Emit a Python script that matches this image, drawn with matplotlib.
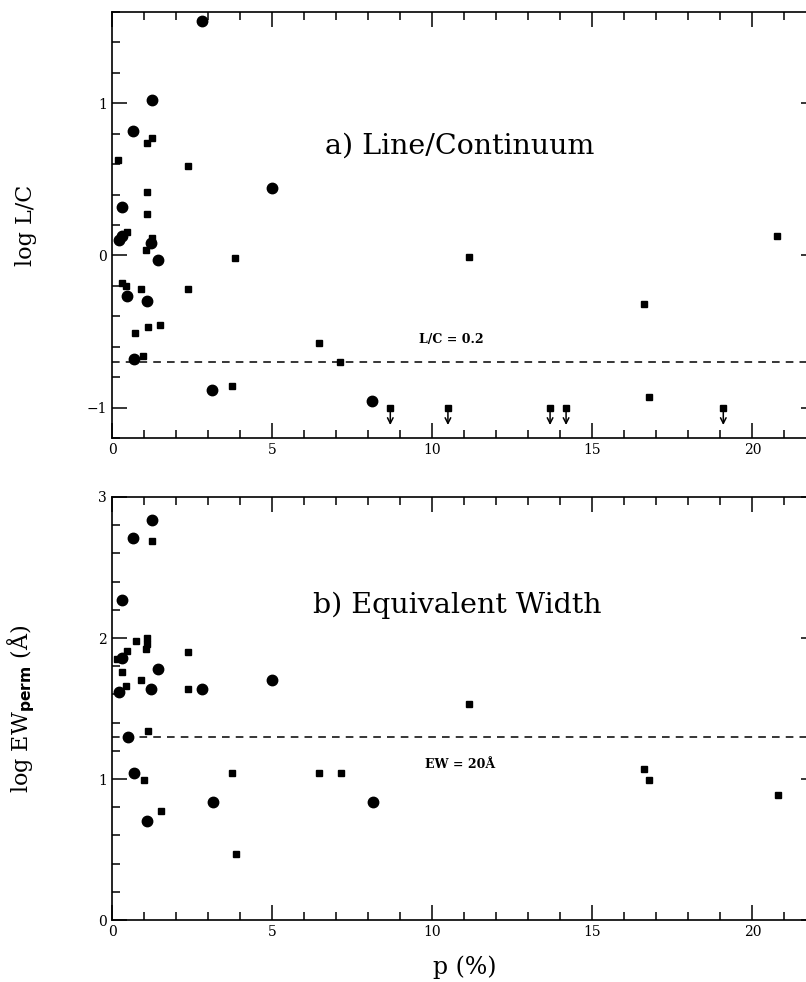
import matplotlib
matplotlib.use("Agg")
import matplotlib.pyplot as plt
from matplotlib.ticker import MultipleLocator

plt.rcParams['font.family'] = ['DejaVu Serif']

# panel a) log L/C versus p (%)
lc_circ_p = [2.82, 1.26, 0.65, 5.01, 0.32, 0.22, 0.32, 1.21, 1.43, 0.48, 1.09, 0.68, 3.13, 8.13]
lc_circ_v = [1.54, 1.02, 0.82, 0.44, 0.32, 0.098, 0.127, 0.083, -0.028, -0.27, -0.30, -0.68, -0.885, -0.96]
lc_sq_p = [1.10, 1.24, 0.19, 2.37, 1.08, 1.10, 0.46, 1.24, 1.05, 3.85, 0.32, 0.43, 0.91, 2.36,
           1.51, 1.11, 0.73, 0.98, 3.74, 6.45, 7.13, 11.16, 16.6, 16.78, 20.78]
lc_sq_v = [0.74, 0.77, 0.63, 0.59, 0.415, 0.27, 0.157, 0.116, 0.037, -0.015, -0.18, -0.20, -0.22, -0.22,
           -0.46, -0.47, -0.51, -0.66, -0.857, -0.573, -0.70, -0.013, -0.32, -0.93, 0.125]
# upper limits
lc_lim_p = [8.69, 10.49, 13.68, 14.18, 19.09]
lc_lim_v = [-1.0, -1.0, -1.0, -1.0, -1.0]

# panel b) log EW_perm versus p (%)
ew_circ_p = [1.26, 0.65, 0.32, 0.30, 1.43, 5.01, 0.22, 1.21, 2.82, 0.49, 0.70, 3.15, 1.10, 8.16]
ew_circ_v = [2.84, 2.71, 2.27, 1.86, 1.78, 1.70, 1.62, 1.64, 1.64, 1.30, 1.04, 0.84, 0.70, 0.84]
ew_sq_p = [1.24, 1.10, 1.08, 1.05, 0.74, 0.46, 2.37, 0.17, 0.32, 0.91, 0.43, 2.37, 1.13,
           1.00, 3.74, 1.53, 3.88, 11.16, 6.45, 7.16, 16.6, 16.78, 20.81]
ew_sq_v = [2.69, 2.00, 1.96, 1.92, 1.98, 1.91, 1.90, 1.85, 1.76, 1.70, 1.66, 1.64, 1.34,
           0.995, 1.04, 0.775, 0.47, 1.53, 1.04, 1.04, 1.07, 0.99, 0.89]

lc_cut = -0.699   # L/C = 0.2
ew_cut = 1.301    # EW = 20 A

fig = plt.figure(figsize=(8.06, 9.82), dpi=100)
ax1 = fig.add_axes([0.139, 0.554, 0.874, 0.4338])
ax2 = fig.add_axes([0.139, 0.0631, 0.874, 0.4308])


def style_axis(ax):
    ax.set_xlim(0, 22)
    ax.xaxis.set_major_locator(MultipleLocator(5))
    ax.xaxis.set_minor_locator(MultipleLocator(1))
    ax.yaxis.set_major_locator(MultipleLocator(1))
    ax.yaxis.set_minor_locator(MultipleLocator(0.2))
    ax.tick_params(which='both', direction='in', top=True, right=True, width=1.1,
                   labelsize=10)
    ax.tick_params(which='major', length=11)
    ax.tick_params(which='minor', length=6)
    for s in ax.spines.values():
        s.set_linewidth(1.2)


# top panel
ax1.plot(lc_circ_p, lc_circ_v, 'o', color='black', ms=7.5)
ax1.plot(lc_sq_p, lc_sq_v, 's', color='black', ms=5)
ax1.plot(lc_lim_p, lc_lim_v, 's', color='black', ms=5)
for p, v in zip(lc_lim_p, lc_lim_v):
    ax1.annotate('', xy=(p, v - 0.115), xytext=(p, v),
                 arrowprops=dict(arrowstyle='->', color='black', lw=1.1,
                                 shrinkA=0, shrinkB=0, mutation_scale=10))
ax1.axhline(lc_cut, color='black', ls=(0, (5, 4)), lw=1.1)
ax1.set_ylim(-1.2, 1.6)
style_axis(ax1)
ax1.set_ylabel('log L/C', fontsize=16)
ax1.yaxis.set_label_coords(-0.106, 0.5)
ax1.text(6.66, 0.72, 'a) Line/Continuum', fontsize=20.5, va='center')
ax1.text(9.6, -0.55, 'L/C = 0.2', fontsize=9, fontweight='bold', va='center')

# bottom panel
ax2.plot(ew_circ_p, ew_circ_v, 'o', color='black', ms=7.5)
ax2.plot(ew_sq_p, ew_sq_v, 's', color='black', ms=5)
ax2.axhline(ew_cut, color='black', ls=(0, (5, 4)), lw=1.1)
ax2.set_ylim(0, 3)
style_axis(ax2)
ax2.set_ylabel(r'log EW$_{\mathbf{perm}}$ (Å)', fontsize=16)
ax2.yaxis.set_label_coords(-0.106, 0.5)
ax2.set_xlabel('p (%)', fontsize=17, labelpad=12)
ax2.text(6.28, 2.23, 'b) Equivalent Width', fontsize=20.5, va='center')
ax2.text(9.78, 1.1, 'EW = 20Å', fontsize=9, fontweight='bold', va='center')

fig.savefig('out.png', dpi=100)
